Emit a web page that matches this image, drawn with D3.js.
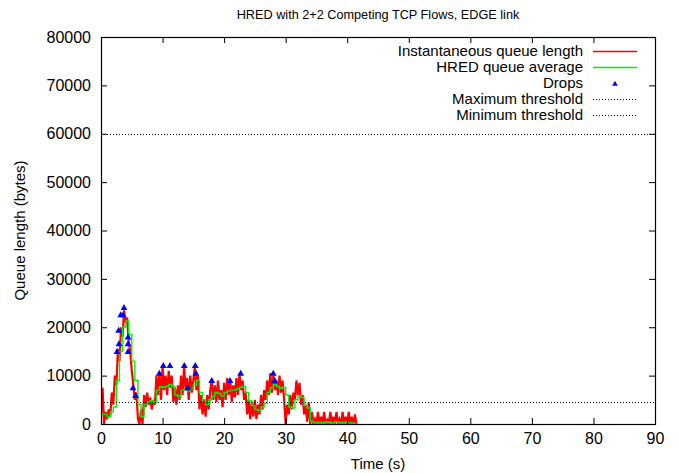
<!DOCTYPE html>
<html>
<head>
<meta charset="utf-8">
<script src="https://cdn.jsdelivr.net/npm/d3@7"></script>
<style>
  html, body { margin: 0; padding: 0; background: #fff; }
  svg { display: block; font-family: "Liberation Sans", Arial, Helvetica, sans-serif; }
</style>
</head>
<body>
<svg id="chart" width="679" height="473"></svg>
<script>
// Instantaneous queue length, sampled every 0.25 s (bytes)
const queueStep = 0.25;
const queueBytes = [
  2000, 7500, 0, 2500, 1000, 3000, 1500, 6500, 4000, 10000, 8000, 15500,
  13000, 20000, 18000, 23500, 21000, 22000, 17000, 15000, 11000, 8000, 5000, 6500,
  1000, 0, 3000, 0, 6000, 3500, 6500, 4000, 5500, 3000, 5000, 4000,
  10000, 6000, 10500, 5000, 12000, 7000, 10000, 6000, 11000, 7500, 10000, 4500,
  7500, 4000, 8000, 5000, 10000, 6000, 12000, 7000, 9500, 5000, 10000, 6500,
  9000, 12000, 7000, 10000, 3000, 6000, 2000, 5000, 1500, 6000, 3000, 7000,
  9000, 5000, 8000, 4500, 9000, 5000, 7000, 3500, 8500, 5000, 9500, 6000,
  9000, 4500, 8000, 5500, 9500, 6000, 10500, 7000, 9000, 5000, 6500, 2000,
  5000, 1000, 4500, 1500, 5000, 1000, 4000, 2000, 6000, 3000, 7000, 5000,
  9000, 6000, 10500, 6500, 10000, 7000, 9000, 6000, 10000, 6500, 9000, 5000,
  0, 4000, 2000, 6000, 3000, 6500, 5000, 9000, 6000, 8500, 4000, 6000,
  2000, 4000, 500, 4500, 0, 2500, 0, 1000, 0, 2500, 0, 1500,
  0, 2500, 0, 800, 0, 2500, 0, 1500, 0, 2500, 0, 1000,
  0, 2500, 0, 1500, 0, 2500, 0, 1500, 0, 2000, 0
];

// HRED average queue, sampled every 0.5 s (bytes)
const avgStep = 0.5;
const avgBytes = [
  2000, 2000, 1500, 2500, 3500, 9000, 15000, 20000, 21300, 18500, 13000, 9000,
  4000, 1500, 4000, 4500, 4800, 4500, 7000, 7700, 7600, 7800, 8200, 7800,
  6000, 5700, 7000, 7200, 6800, 7200, 8000, 9000, 6500, 5000, 4000, 5000,
  5700, 6500, 6300, 5800, 6500, 6800, 7000, 7000, 7300, 7600, 7800, 6500,
  4800, 3800, 3000, 2800, 3500, 4300, 6500, 7500, 8100, 7800, 7400, 7600,
  6000, 3500, 3300, 5000, 5800, 5500, 3800, 3300, 600, 300, 200, 300,
  200, 400, 300, 200, 500, 300, 200, 400, 300, 200, 100, 100
];

// Packet drops: time (s) and queue length at the drop (bytes)
const dropTime  = [2.6, 2.92, 2.87, 3.2, 3.6, 3.74, 4.4, 4.4, 4.4, 5.2, 5.6,
                   9.47, 10.12, 11.2, 13.53, 15.32, 15.43, 14.08, 17.99, 20.96, 22.7, 27.99, 28.22];
const dropBytes = [15100, 16700, 19500, 22700, 22700, 24200, 18100, 16700, 15100, 7600, 6000,
                   10600, 12200, 12200, 12200, 12200, 10600, 7600, 9100, 9100, 10600, 10600, 9100];

const maxThreshold = 60000;
const minThreshold = 4500;

const xTicks = [0, 10, 20, 30, 40, 50, 60, 70, 80, 90];
const yTicks = [0, 10000, 20000, 30000, 40000, 50000, 60000, 70000, 80000];

const legendLabels = ["Instantaneous queue length", "HRED queue average", "Drops",
                      "Maximum threshold", "Minimum threshold"];

const titleText = "HRED with 2+2 Competing TCP Flows, EDGE link";
const xLabel = "Time (s)";
const yLabel = "Queue length (bytes)";

// ---- layout ----
const svg = d3.select("#chart");
const margin = { left: 101, right: 24, top: 37, bottom: 49 };
const W = 679, H = 473;
const x = d3.scaleLinear().domain([0, 90]).range([margin.left, W - margin.right]);
const y = d3.scaleLinear().domain([0, 80000]).range([H - margin.bottom, margin.top]);

const clipId = "plotclip";
svg.append("defs").append("clipPath").attr("id", clipId)
  .append("rect")
  .attr("x", x(0)).attr("y", y(80000))
  .attr("width", x(90) - x(0)).attr("height", y(0) - y(80000));

const plot = svg.append("g").attr("clip-path", `url(#${clipId})`);

const line = d3.line().x(d => x(d[0])).y(d => y(d[1]));
const stepLine = d3.line().x(d => x(d[0])).y(d => y(d[1])).curve(d3.curveStepAfter);

const queuePts = queueBytes.map((v, i) => [i * queueStep, v]);
const avgPts = avgBytes.map((v, i) => [i * avgStep, v]);

const RED = "#ff0000", GREEN = "#00f000", BLUE = "#0000ff";

plot.append("path")
  .attr("d", line(queuePts))
  .attr("fill", "none")
  .attr("stroke", RED)
  .attr("stroke-width", 2.2)
  .attr("stroke-linejoin", "miter");

plot.append("path")
  .attr("d", stepLine(avgPts))
  .attr("fill", "none")
  .attr("stroke", GREEN)
  .attr("stroke-width", 1.4);

const tri = d3.symbol().type(d3.symbolTriangle).size(20);
plot.selectAll("path.drop")
  .data(dropTime.map((t, i) => [t, dropBytes[i]]))
  .join("path")
  .attr("class", "drop")
  .attr("d", tri)
  .attr("transform", d => `translate(${x(d[0])},${y(d[1]) + 1})`)
  .attr("fill", BLUE);

[maxThreshold, minThreshold].forEach(v => {
  plot.append("line")
    .attr("x1", x(0)).attr("x2", x(90))
    .attr("y1", Math.round(y(v)) + 0.5).attr("y2", Math.round(y(v)) + 0.5)
    .attr("stroke", "#000")
    .attr("stroke-width", 1)
    .attr("stroke-dasharray", "1,2");
});

// ---- axes (inward, mirrored ticks) ----
const tickLen = 6;
const axisColor = "#000";
const bottomAxis = d3.axisBottom(x).tickValues(xTicks).tickSizeInner(-tickLen).tickSizeOuter(0).tickPadding(9);
const topAxis = d3.axisTop(x).tickValues(xTicks).tickSizeInner(-tickLen).tickSizeOuter(0).tickFormat("");
const leftAxis = d3.axisLeft(y).tickValues(yTicks).tickSizeInner(-tickLen).tickSizeOuter(0).tickPadding(10).tickFormat(d3.format("d"));
const rightAxis = d3.axisRight(y).tickValues(yTicks).tickSizeInner(-tickLen).tickSizeOuter(0).tickFormat("");

function styleAxis(g) {
  g.select(".domain").remove();
  g.selectAll(".tick line").attr("stroke", axisColor);
  g.selectAll(".tick text").attr("fill", "#000").style("font-size", "16px")
    .style("font-family", "'Liberation Sans', Arial, sans-serif");
}

svg.append("g").attr("transform", `translate(0,${y(0)})`).call(bottomAxis).call(styleAxis);
svg.append("g").attr("transform", `translate(0,${y(80000)})`).call(topAxis).call(styleAxis);
svg.append("g").attr("transform", `translate(${x(0)},0)`).call(leftAxis).call(styleAxis);
svg.append("g").attr("transform", `translate(${x(90)},0)`).call(rightAxis).call(styleAxis);

// plot border
svg.append("rect")
  .attr("x", x(0) + 0.5).attr("y", y(80000) + 0.5)
  .attr("width", x(90) - x(0)).attr("height", y(0) - y(80000))
  .attr("fill", "none").attr("stroke", axisColor).attr("stroke-width", 1.2);

// ---- titles ----
svg.append("text")
  .attr("x", (x(0) + x(90)) / 2).attr("y", 19)
  .attr("text-anchor", "middle")
  .style("font-size", "12.7px")
  .text(titleText);

svg.append("text")
  .attr("x", (x(0) + x(90)) / 2).attr("y", 469)
  .attr("text-anchor", "middle")
  .style("font-size", "15px")
  .text(xLabel);

svg.append("text")
  .attr("transform", `translate(25,${(y(0) + y(80000)) / 2}) rotate(-90)`)
  .attr("text-anchor", "middle")
  .style("font-size", "15px")
  .text(yLabel);

// ---- legend ----
const legend = svg.append("g");
const legX = 583, legY0 = 51, legDy = 16, sampleX1 = 593, sampleX2 = 637;
const legTri = d3.symbol().type(d3.symbolTriangle).size(14);
legendLabels.forEach((label, i) => {
  const cy = legY0 + i * legDy;
  legend.append("text")
    .attr("x", legX).attr("y", cy + 5)
    .attr("text-anchor", "end")
    .style("font-size", "15px")
    .text(label);
  if (i === 0 || i === 1) {
    legend.append("line")
      .attr("x1", sampleX1).attr("x2", sampleX2)
      .attr("y1", cy + 0.5).attr("y2", cy + 0.5)
      .attr("stroke", i === 0 ? RED : GREEN)
      .attr("stroke-width", 1.4);
  } else if (i === 2) {
    legend.append("path")
      .attr("d", legTri)
      .attr("transform", `translate(${(sampleX1 + sampleX2) / 2},${cy + 1})`)
      .attr("fill", BLUE);
  } else {
    legend.append("line")
      .attr("x1", sampleX1).attr("x2", sampleX2)
      .attr("y1", cy + 0.5).attr("y2", cy + 0.5)
      .attr("stroke", "#000")
      .attr("stroke-width", 1)
      .attr("stroke-dasharray", "1,2");
  }
});
</script>
</body>
</html>
